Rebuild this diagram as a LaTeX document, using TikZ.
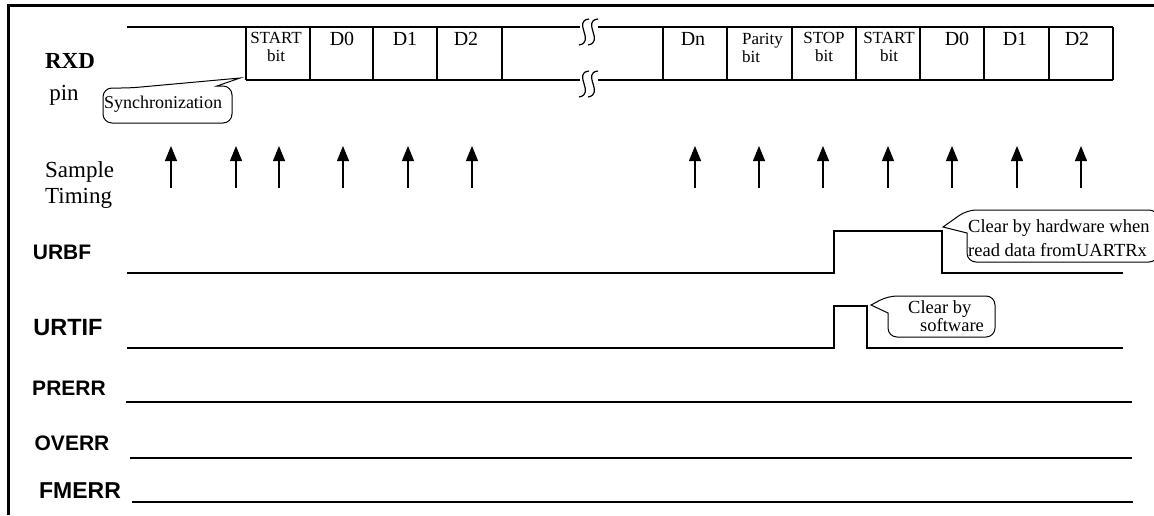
\documentclass[tikz,border=0pt]{standalone}
\usepackage{fontspec}
\setmainfont{Liberation Serif}
\setsansfont{Liberation Sans}
\usetikzlibrary{arrows.meta}
\tikzset{
  wave/.style={line width=1.2pt},
  edgeline/.style={line width=3pt},
  bubble/.style={line width=1pt},
  bitname/.style={anchor=base, inner sep=0pt, font=\fontsize{20}{20}\selectfont},
  bitnote/.style={anchor=north, inner sep=0pt, align=center, font=\fontsize{17}{18}\selectfont},
  signame/.style={anchor=base, inner sep=0pt, font=\sffamily\bfseries\fontsize{21}{21}\selectfont},
  pinname/.style={anchor=base, inner sep=0pt, font=\fontsize{23}{26}\selectfont},
  sample/.style={line width=1.2pt, -{Triangle[width=12pt,length=15pt]}},
}

\begin{document}
\begin{tikzpicture}[x=1pt,y=-1pt]
\useasboundingbox (0,0) rectangle (1154,515);
\draw[edgeline] (1154,5) -- (8,5) -- (8,515);

\node[pinname, font=\bfseries\fontsize{23}{26}\selectfont] (rxd) at (70,68) {RXD};
\node[pinname] (pin) at (64,100) {pin};
\draw[wave] (127,27) -- (580,27) (598,27) -- (1113,27);
\draw[wave] (246,80) -- (580,80) (598,80) -- (1113,80);
\foreach \x in {246,310,373,437,502,663,727,792,856,920,984,1049,1113}
  \draw[wave] (\x,27) -- (\x,80);
\foreach \y in {18,70} {
  \foreach \x in {584,593}
    \draw[wave] (\x+5,\y+1) .. controls (\x-12,\y+3) and (\x+12,\y+24) .. (\x-5,\y+27);
}

\node[bitnote] (starta) at (276,32) {START\\bit};
\node[bitname] (d0a) at (342,45) {D0};
\node[bitname] (d1a) at (405,45) {D1};
\node[bitname] (d2a) at (466,45) {D2};
\node[bitname] (dn) at (693,45) {Dn};
\node[bitnote, anchor=north west, align=left] (parity) at (742,33) {Parity\\bit};
\node[bitnote] (stop) at (824,32) {STOP\\bit};
\node[bitnote] (startb) at (889,32) {START\\bit};
\node[bitname] (d0b) at (957,45) {D0};
\node[bitname] (d1b) at (1015,45) {D1};
\node[bitname] (d2b) at (1077,45) {D2};

\node[anchor=base, inner sep=0pt, font=\fontsize{18}{18}\selectfont] (sync) at (163,108) {Synchronization};
\draw[bubble] (240,78) -- (217,86) [rounded corners=9pt] -- (232,86) -- (232,123) -- (103,123) -- (103,88) -- (130,88) [sharp corners] -- cycle;

\node[pinname, anchor=north west, align=left] (sampling) at (45,161) {Sample\\Timing};
\foreach \x in {171,236,279,343,408,472,695,759,823,888,952,1017,1081}
  \draw[sample] (\x,188) -- (\x,146);

\node[signame] (urbf) at (62,259) {URBF};
\draw[wave] (127,273) -- (834,273) -- (834,231) -- (942,231) -- (942,273) -- (1123,273);
\node[anchor=north west, inner sep=0pt, align=left, font=\fontsize{18.5}{24}\selectfont] (hwclr) at (968,219.5) {Clear by hardware when\\read data fromUARTRx};
\draw[bubble] (943,227) -- (967,233) [rounded corners=9pt] -- (967,262) -- (1158,262) -- (1158,210) -- (967,210) [sharp corners] -- cycle;

\node[signame, font=\sffamily\bfseries\fontsize{23.5}{24}\selectfont] (urtif) at (68,335) {URTIF};
\draw[wave] (127,348) -- (834,348) -- (834,306) -- (867,306) -- (867,348) -- (1123,348);
\node[anchor=north west, inner sep=0pt, align=left, font=\fontsize{18.5}{17}\selectfont] (swclr) at (908,300.5) {Clear by\\\hspace*{12pt}software};
\draw[bubble] (871,305) -- (888,313) [rounded corners=9pt] -- (888,337) -- (995,337) -- (995,296) -- (888,296) [sharp corners] -- cycle;

\node[signame] (prerr) at (69,395) {PRERR};
\draw[wave] (126,402) -- (1132,402);
\node[signame] (overr) at (72,450) {OVERR};
\draw[wave] (130,458) -- (1132,458);
\node[signame, font=\sffamily\bfseries\fontsize{23}{24}\selectfont] (fmerr) at (80,498) {FMERR};
\draw[wave] (132,502) -- (1133,502);
\end{tikzpicture}
\end{document}
